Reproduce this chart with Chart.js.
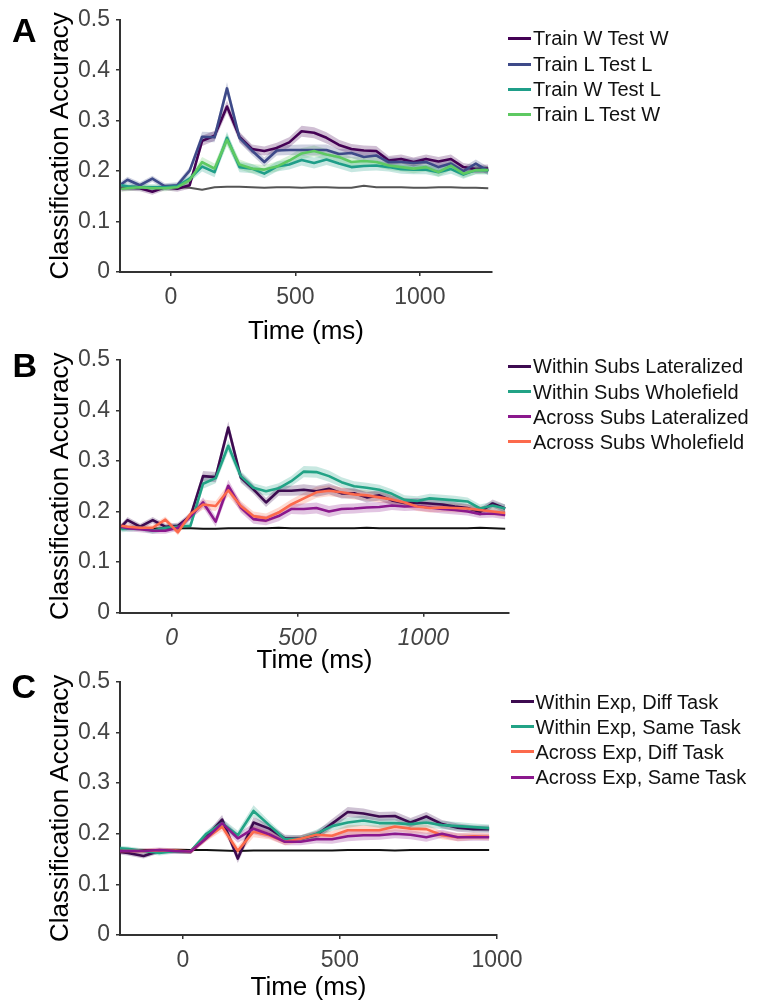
<!DOCTYPE html>
<html><head><meta charset="utf-8">
<script src="https://cdn.jsdelivr.net/npm/chart.js@4.4.1/dist/chart.umd.min.js"></script>
<style>
html,body{margin:0;padding:0;background:#fff;width:759px;height:1002px;overflow:hidden;position:relative;font-family:"Liberation Sans",Arial,sans-serif}
canvas{position:absolute;left:0}
.letter{position:absolute;font-weight:bold;font-size:34px;line-height:1;color:#000}
.legend{position:absolute;font-size:20px;color:#111}
.row{position:absolute;left:0;white-space:nowrap;height:24px;line-height:24px}
.row i{position:absolute;left:0;top:10.5px;width:23px;height:3px}
.row span{position:absolute;left:25px;top:0}
</style></head><body>
<canvas id="cA" width="759" height="352" style="top:0px"></canvas>
<canvas id="cB" width="759" height="345" style="top:340px"></canvas>
<canvas id="cC" width="759" height="345" style="top:662px"></canvas>
<div class="letter" style="left:12px;top:12.5px">A</div>
<div class="letter" style="left:12.5px;top:348px">B</div>
<div class="letter" style="left:11.5px;top:669px">C</div>
<div id="legA" class="legend" style="left:508px;top:0px"></div>
<div id="legB" class="legend" style="left:508px;top:0px"></div>
<div id="legC" class="legend" style="left:510.5px;top:0px"></div>
<script>
// ---------- data ----------
const yTicks = [0, 0.1, 0.2, 0.3, 0.4, 0.5];
const yTickLabels = ['0', '0.1', '0.2', '0.3', '0.4', '0.5'];
const xTicksAB = [0, 500, 1000];
const xTickLabelsAB = ['0', '500', '1000'];
const xTicksC = [0, 500, 1000];
const xTickLabelsC = ['0', '500', '1000'];

const timesA = [-200,-175,-125,-75,-25,25,75,125,175,225,275,325,375,425,475,525,575,625,675,725,775,825,875,925,975,1025,1075,1125,1175,1225,1275];
const labelsA = ['Train W Test W', 'Train L Test L', 'Train W Test L', 'Train L Test W'];
const trainWTestW = [0.166,0.167,0.166,0.159,0.168,0.165,0.172,0.260,0.270,0.328,0.268,0.244,0.240,0.246,0.257,0.279,0.276,0.266,0.252,0.244,0.241,0.240,0.221,0.224,0.218,0.224,0.219,0.224,0.208,0.204,0.205];
const trainLTestL = [0.174,0.183,0.172,0.185,0.170,0.172,0.201,0.268,0.267,0.364,0.266,0.241,0.218,0.241,0.242,0.242,0.242,0.242,0.234,0.236,0.228,0.231,0.218,0.218,0.216,0.218,0.208,0.215,0.200,0.215,0.200];
const trainWTestL = [0.172,0.170,0.168,0.168,0.168,0.170,0.185,0.209,0.198,0.266,0.208,0.205,0.195,0.209,0.213,0.222,0.216,0.223,0.215,0.208,0.210,0.211,0.208,0.204,0.203,0.203,0.198,0.204,0.193,0.202,0.202];
const trainLTestW = [0.165,0.166,0.168,0.166,0.166,0.168,0.182,0.218,0.205,0.262,0.213,0.205,0.203,0.209,0.221,0.235,0.240,0.233,0.228,0.218,0.220,0.218,0.211,0.208,0.205,0.208,0.198,0.211,0.195,0.202,0.202];
const chanceA = [0.168,0.168,0.167,0.167,0.168,0.168,0.167,0.163,0.168,0.169,0.169,0.168,0.167,0.168,0.168,0.167,0.168,0.168,0.167,0.167,0.171,0.168,0.168,0.168,0.167,0.167,0.168,0.168,0.167,0.167,0.166];
const errA = [0.006,0.006,0.006,0.006,0.006,0.006,0.007,0.010,0.010,0.012,0.010,0.009,0.009,0.010,0.010,0.011,0.011,0.011,0.010,0.010,0.010,0.010,0.009,0.009,0.009,0.009,0.009,0.009,0.008,0.008,0.008];

const timesB = [-200,-175,-125,-75,-25,25,75,125,175,225,275,325,375,425,475,525,575,625,675,725,775,825,875,925,975,1025,1075,1125,1175,1225,1275,1325];
const labelsB = ['Within Subs Lateralized', 'Within Subs Wholefield', 'Across Subs Lateralized', 'Across Subs Wholefield'];
const withinSubsLat = [0.170,0.183,0.170,0.183,0.170,0.172,0.191,0.270,0.268,0.366,0.267,0.244,0.218,0.241,0.241,0.243,0.240,0.245,0.236,0.236,0.228,0.232,0.222,0.217,0.218,0.216,0.214,0.210,0.207,0.199,0.216,0.206];
const withinSubsWhole = [0.165,0.166,0.168,0.162,0.168,0.170,0.172,0.255,0.266,0.330,0.270,0.247,0.240,0.246,0.260,0.279,0.278,0.270,0.258,0.250,0.247,0.243,0.235,0.223,0.221,0.226,0.224,0.222,0.220,0.206,0.212,0.206];
const acrossSubsLat = [0.170,0.167,0.165,0.162,0.162,0.168,0.190,0.218,0.180,0.251,0.208,0.185,0.182,0.191,0.205,0.205,0.207,0.200,0.205,0.206,0.208,0.209,0.212,0.210,0.211,0.208,0.205,0.203,0.200,0.195,0.196,0.193];
const acrossSubsWhole = [0.172,0.170,0.168,0.168,0.184,0.159,0.195,0.214,0.211,0.242,0.211,0.191,0.187,0.198,0.214,0.226,0.238,0.241,0.238,0.234,0.232,0.228,0.224,0.218,0.210,0.207,0.208,0.207,0.206,0.203,0.200,0.197];
const chanceB = [0.167,0.167,0.167,0.166,0.167,0.167,0.167,0.166,0.166,0.167,0.167,0.167,0.167,0.168,0.167,0.167,0.167,0.167,0.167,0.167,0.168,0.167,0.167,0.167,0.167,0.167,0.167,0.167,0.167,0.168,0.167,0.166];
const errB = [0.006,0.006,0.006,0.006,0.006,0.006,0.007,0.010,0.010,0.012,0.010,0.009,0.009,0.010,0.010,0.011,0.011,0.011,0.010,0.010,0.010,0.010,0.009,0.009,0.009,0.009,0.009,0.009,0.008,0.008,0.008,0.008];

const timesC = [-200,-175,-125,-75,-25,25,75,125,175,225,275,325,375,425,475,525,575,625,675,725,775,825,875,925,975];
const labelsC = ['Within Exp, Diff Task', 'Within Exp, Same Task', 'Across Exp, Diff Task', 'Across Exp, Same Task'];
const withinExpDiff = [0.164,0.162,0.156,0.166,0.166,0.165,0.194,0.228,0.151,0.222,0.210,0.191,0.190,0.197,0.220,0.243,0.240,0.234,0.235,0.222,0.234,0.219,0.212,0.209,0.209];
const withinExpSame = [0.171,0.170,0.166,0.162,0.166,0.165,0.200,0.221,0.197,0.245,0.217,0.189,0.190,0.200,0.215,0.222,0.226,0.221,0.221,0.219,0.222,0.217,0.215,0.213,0.211];
const acrossExpDiff = [0.166,0.166,0.166,0.167,0.167,0.165,0.191,0.214,0.166,0.204,0.197,0.184,0.190,0.198,0.196,0.207,0.207,0.207,0.214,0.210,0.209,0.197,0.193,0.195,0.194];
const acrossExpSame = [0.166,0.166,0.166,0.168,0.166,0.165,0.191,0.221,0.191,0.210,0.199,0.184,0.184,0.189,0.189,0.195,0.197,0.197,0.200,0.198,0.193,0.200,0.193,0.193,0.193];
const chanceC = [0.168,0.168,0.168,0.168,0.168,0.168,0.168,0.167,0.166,0.167,0.167,0.167,0.167,0.167,0.167,0.168,0.168,0.168,0.167,0.168,0.168,0.168,0.168,0.168,0.168];
const errC = [0.005,0.005,0.005,0.005,0.005,0.005,0.006,0.009,0.009,0.011,0.008,0.007,0.007,0.008,0.009,0.010,0.010,0.009,0.009,0.009,0.009,0.008,0.008,0.007,0.007];

// ---------- styles ----------
const FONT = '"Liberation Sans", Arial, sans-serif';
const C_DPURPLE = '#440154', C_BLUE = '#3e4a89', C_TEAL = '#1f9e89', C_GREEN = '#5ec962';
const C_DPURPLE2 = '#3d0b50', C_TEAL2 = '#22a386', C_PURPLE2 = '#8b188d', C_CORAL2 = '#fc6a4c';

function rgba(hex, a) {
  const n = parseInt(hex.slice(1), 16);
  return `rgba(${(n >> 16) & 255},${(n >> 8) & 255},${n & 255},${a})`;
}
function pts(times, vals) { return times.map((t, i) => ({ x: t, y: vals[i] })); }

function buildDatasets(times, series, colors, err, chance, chanceColor) {
  const ds = [];
  series.forEach((vals, k) => {
    ds.push({ data: times.map((t, i) => ({ x: t, y: vals[i] - err[i] })), borderWidth: 0, pointRadius: 0, fill: false, order: 100 });
    ds.push({ data: times.map((t, i) => ({ x: t, y: vals[i] + err[i] })), borderWidth: 0, pointRadius: 0, fill: '-1', backgroundColor: rgba(colors[k], 0.25), order: 100 });
  });
  ds.push({ data: pts(times, chance), borderColor: chanceColor, borderWidth: 2, pointRadius: 0, fill: false, order: 50 });
  series.forEach((vals, k) => {
    ds.push({ data: pts(times, vals), borderColor: colors[k], borderWidth: 2.6, pointRadius: 0, fill: false, order: 10 - k });
  });
  return ds;
}

function makeChart(id, o) {
  const H = document.getElementById(id).height;
  return new Chart(document.getElementById(id), {
    type: 'line',
    data: { datasets: o.datasets },
    options: {
      responsive: false, animation: false, maintainAspectRatio: false,
      layout: { padding: { top: o.top, right: o.right, left: 0, bottom: 0 } },
      plugins: { legend: { display: false }, tooltip: { enabled: false } },
      elements: { line: { tension: 0, borderJoinStyle: 'round' } },
      scales: {
        x: {
          type: 'linear', min: o.xmin, max: o.xmax,
          afterBuildTicks: s => { s.ticks = o.xTicks.map(v => ({ value: v })); },
          afterFit: s => { s.height = H - o.bottom; },
          border: { display: true, color: '#333', width: 2 },
          grid: { drawOnChartArea: false, drawTicks: true, tickLength: 4, color: '#333', lineWidth: 1.5 },
          ticks: { callback: (v, i) => o.xLabels[i], font: { family: FONT, size: 23, style: o.xItalic ? 'italic' : 'normal' }, color: '#444', padding: 8, maxRotation: 0, autoSkip: false },
          title: { display: true, text: 'Time (ms)', font: { family: FONT, size: 26 }, color: '#000', padding: { top: 0, bottom: o.titlePad } }
        },
        y: {
          min: 0, max: 0.5,
          afterBuildTicks: s => { s.ticks = yTicks.map(v => ({ value: v })); },
          afterFit: s => { s.width = 120; },
          border: { display: true, color: '#333', width: 2 },
          grid: { drawOnChartArea: false, drawTicks: true, tickLength: 4, color: '#333', lineWidth: 1.5 },
          ticks: { callback: (v, i) => yTickLabels[i], font: { family: FONT, size: 23 }, color: '#444', padding: 6 },
          title: { display: true, text: 'Classification Accuracy', font: { family: FONT, size: 26 }, color: '#000', padding: { top: 45, bottom: 0 } }
        }
      }
    }
  });
}

function makeLegend(id, labels, colors, centers) {
  const el = document.getElementById(id);
  labels.forEach((lab, k) => {
    const r = document.createElement('div');
    r.className = 'row';
    r.style.top = (centers[k] - 12) + 'px';
    const i = document.createElement('i'); i.style.background = colors[k];
    const s = document.createElement('span'); s.textContent = lab;
    r.appendChild(i); r.appendChild(s); el.appendChild(r);
  });
}

const colorsA = [C_DPURPLE, C_BLUE, C_TEAL, C_GREEN];
const colorsB = [C_DPURPLE2, C_TEAL2, C_PURPLE2, C_CORAL2];
const colorsC = [C_DPURPLE2, C_TEAL2, C_CORAL2, C_PURPLE2];

makeChart('cA', {
  datasets: buildDatasets(timesA, [trainWTestW, trainLTestL, trainWTestL, trainLTestW], colorsA, errA, chanceA, '#555'),
  top: 19, bottom: 272, right: 267, xmin: -205, xmax: 1290, xTicks: xTicksAB, xLabels: xTickLabelsAB, titlePad: 4.4
});
makeChart('cB', {
  datasets: buildDatasets(timesB, [withinSubsLat, withinSubsWhole, acrossSubsLat, acrossSubsWhole], colorsB, errB, chanceB, '#111'),
  top: 19.3, bottom: 272.7, right: 250, xmin: -205, xmax: 1340, xTicks: xTicksAB, xLabels: xTickLabelsAB, titlePad: 8.4, xItalic: true
});
makeChart('cC', {
  datasets: buildDatasets(timesC, [withinExpDiff, withinExpSame, acrossExpDiff, acrossExpSame], colorsC, errC, chanceC, '#111'),
  top: 19.7, bottom: 273, right: 262, xmin: -200, xmax: 1000, xTicks: xTicksC, xLabels: xTickLabelsC, titlePad: 3.4
});

makeLegend('legA', labelsA, colorsA, [38.3, 64, 89.3, 114.3]);
makeLegend('legB', labelsB, colorsB, [366, 391.7, 416.7, 441.7]);
makeLegend('legC', labelsC, colorsC, [701.7, 726.7, 751.7, 777.3]);
</script>
</body></html>
